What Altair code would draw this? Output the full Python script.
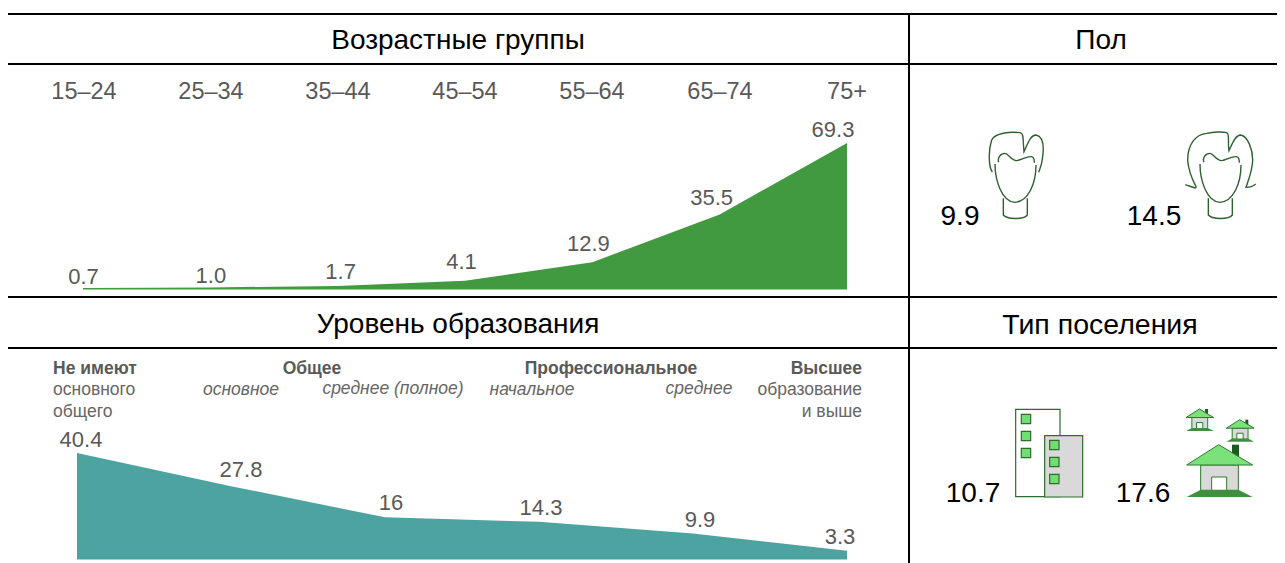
import altair as alt
import pandas as pd

# ---------- chart values ----------
age_groups = ["15–24", "25–34", "35–44", "45–54", "55–64", "65–74", "75+"]
age_values = [0.7, 1.0, 1.7, 4.1, 12.9, 35.5, 69.3]
edu_values = [40.4, 27.8, 16, 14.3, 9.9, 3.3]
edu_labels = ["40.4", "27.8", "16", "14.3", "9.9", "3.3"]
gender_values = ["9.9", "14.5"]
settlement_values = ["10.7", "17.6"]

# ---------- layout ----------
W, H = 1269, 555
OX, OY = 8, 8  # page margin
GREEN, TEAL = "#429A40", "#4CA3A0"
GREY = "#595959"
CAP = "#666666"
FONT = "Liberation Sans"
age_nudge_x = [0.5, 0.5, 3, -3.5, -4, -8, -14]
age_lift = [11.5, 11, 13.5, 18.5, 18, 16, 13]
edu_nudge_x = [4, 10, 6, 2, 7, -7]
edu_lift = [13, 16, 14.5, 13.5, 13, 14]


def layer_area(values, labels, px0, px1, py_base, py_top, color, nudge, lift):
    n = len(values)
    dom_top = max(values)
    step = (px1 - px0) / (n - 1)
    unit = (py_base - py_top) / dom_top
    df = pd.DataFrame({
        "i": range(n),
        "v": values,
        "label": labels,
        "lx": [i + d / step for i, d in enumerate(nudge)],
        "ly": [v + l / unit for v, l in zip(values, lift)],
    })
    xs = alt.Scale(domain=[0, n - 1], range=[px0 - OX, px1 - OX])
    ys = alt.Scale(domain=[0, dom_top], range=[py_base - OY, py_top - OY])
    area = alt.Chart(df).mark_area(color=color, interpolate="linear").encode(
        x=alt.X("i:Q", scale=xs, axis=None),
        y=alt.Y("v:Q", scale=ys, axis=None),
    )
    text = alt.Chart(df).mark_text(
        font=FONT, fontSize=22, color=GREY, baseline="middle", align="center"
    ).encode(
        x=alt.X("lx:Q", scale=xs, axis=None),
        y=alt.Y("ly:Q", scale=ys, axis=None),
        text="label:N",
    )
    return [area, text]


ONE = alt.Data(values=[{"a": 1}])


def txt(s, x, y, size, color=GREY, align="center", weight="normal", style="normal"):
    return alt.Chart(ONE).mark_text(
        font=FONT, fontSize=size, color=color, align=align, baseline="middle",
        fontWeight=weight, fontStyle=style,
    ).encode(x=alt.value(x - OX), y=alt.value(y - OY), text=alt.value(s))


def rule(x0, y0, x1, y1, w=2):
    return alt.Chart(ONE).mark_rule(color="#000000", strokeWidth=w).encode(
        x=alt.value(x0 - OX), x2=alt.value(x1 - OX),
        y=alt.value(y0 - OY), y2=alt.value(y1 - OY),
    )


def icon(path, ax, ay, fill=None, stroke=None, sw=1.0):
    # path is written in zoomed (3x) coordinates relative to page point (ax, ay)
    kw = {"filled": fill is not None, "opacity": 1}
    if fill is not None:
        kw["fill"] = fill
    else:
        kw["fill"] = "transparent"
    kw["stroke"] = stroke if stroke is not None else "transparent"
    kw["strokeWidth"] = sw if stroke is not None else 0
    return alt.Chart(ONE).mark_point(shape=path, size=4 / 9, **kw).encode(
        x=alt.value(ax - OX), y=alt.value(ay - OY)
    )


def rect(x0, y0, x1, y1):
    return f"M{x0} {y0}L{x1} {y0}L{x1} {y1}L{x0} {y1}Z"


def house(ox, oy, k):
    P = lambda x, y: (round(ox + (x - 800) * k, 1), round(oy + (y - 149) * k, 1))
    def poly(*pts):
        pp = [P(*p) for p in pts]
        return "M" + "L".join(f"{a} {b}" for a, b in pp) + "Z"
    return [
        (poly((936, 149), (957, 149), (957, 192), (936, 192)), "#1E5A1E", None, 0),
        (poly((842, 210), (955, 210), (955, 290), (842, 290)), "#D9D9D9", "#2F7A2F", 1),
        (poly((800, 210), (896, 149), (998, 210)), "#7BE27B", "#2F7A2F", 1),
        (poly((875, 246), (920, 246), (920, 290), (875, 290)), "#FFFFFF", "#2F7A2F", 1),
        (poly((800, 306), (842, 284), (955, 284), (998, 306)), "#3F8F3F", None, 0),
    ]


layers = []
layers += layer_area(age_values, [f"{v:.1f}" for v in age_values], 83, 847, 289.5, 143,
                     GREEN, age_nudge_x, age_lift)
layers += layer_area(edu_values, edu_labels, 77, 847, 559.5, 453,
                     TEAL, edu_nudge_x, edu_lift)

# table rules
for y in [14, 64, 297, 348]:
    layers.append(rule(8, y, 1285, y))
layers.append(rule(909, 14, 909, 563))

# headers
layers += [
    txt("Возрастные группы", 458, 41, 28, "#000000"),
    txt("Пол", 1101, 41, 28, "#000000"),
    txt("Уровень образования", 458, 325, 28, "#000000"),
    txt("Тип поселения", 1100, 325, 28.5, "#000000"),
]

# age tick labels
for g, x in zip(age_groups, [84, 211, 338, 465, 592, 720, 847]):
    layers.append(txt(g, x, 92, 23.5))

# education captions
layers += [
    txt("Не имеют", 53, 369, 17.5, align="left", weight="bold"),
    txt("основного", 53, 390, 17.5, CAP, align="left"),
    txt("общего", 53, 412, 17.5, CAP, align="left"),
    txt("Общее", 312, 369, 17.5, weight="bold"),
    txt("основное", 241, 390, 17.5, CAP, style="italic"),
    txt("среднее (полное)", 393, 389, 17.5, CAP, style="italic"),
    txt("Профессиональное", 611, 369, 17.5, weight="bold"),
    txt("начальное", 532, 390, 17.5, CAP, style="italic"),
    txt("среднее", 699, 389, 17.5, CAP, style="italic"),
    txt("Высшее", 862, 369, 17.5, align="right", weight="bold"),
    txt("образование", 862, 390, 17.5, CAP, align="right"),
    txt("и выше", 862, 412, 17.5, CAP, align="right"),
]

# icon values
layers += [
    txt(gender_values[0], 960, 217, 28, "#000000"),
    txt(gender_values[1], 1154, 217, 28, "#000000"),
    txt(settlement_values[0], 973, 494, 28, "#000000"),
    txt(settlement_values[1], 1143, 494, 28, "#000000"),
]

# faces (3x zoom coordinates)
FACE_STROKE = "#2F6030"
male = (
    "M217 186C205 170 205 120 215 90C225 68 270 65 300 68C312 70 308 85 312 125"
    "C322 105 330 75 348 75C372 80 372 110 368 140C366 165 360 175 356 187"
    "M236 157C232 145 240 130 255 130C265 130 272 150 290 152C305 150 320 138 335 140"
    "C342 142 343 150 343 158"
    "M225 162C225 210 245 275 285 277C325 275 348 220 348 165"
    "M250 265L250 315C260 328 310 330 322 315L322 265"
)
female = (
    "M796 224C815 230 830 238 828 230C815 205 805 180 803 150C803 100 830 72 860 70"
    "C880 65 910 65 920 68C930 72 922 90 927 122C935 105 945 75 962 75"
    "C985 80 998 120 998 150C998 180 985 210 978 232C985 232 1000 228 1007 222"
    "M851 157C847 145 855 130 870 130C880 130 887 150 905 152C920 150 935 138 950 140"
    "C957 142 958 150 958 158"
    "M840 162C840 210 860 275 900 277C940 275 963 220 963 165"
    "M865 265L865 315C875 328 925 330 937 315L937 265"
)
layers.append(icon(male, 920, 110, None, FACE_STROKE, 1.4))
layers.append(icon(female, 920, 110, None, FACE_STROKE, 1.4))

# buildings (3x zoom coordinates)
BSTROKE = "#2F6B2F"
WIN = "#70DE70"
layers.append(icon(rect(287, 43, 420, 305), 920, 395, "#FFFFFF", BSTROKE, 1.2))
for x0, y0 in [(304, 58), (304, 109), (304, 160)]:
    layers.append(icon(rect(x0, y0, x0 + 28, y0 + 28), 920, 395, WIN, BSTROKE, 1.2))
layers.append(icon(rect(374, 122, 488, 306), 920, 395, "#D9D9D9", BSTROKE, 1.2))
for x0, y0 in [(389, 136), (389, 187), (389, 238)]:
    layers.append(icon(rect(x0, y0, x0 + 28, y0 + 28), 920, 395, WIN, BSTROKE, 1.2))

# houses
for ox, oy, k in [(800, 149, 1.0), (798, 42, 0.42), (919, 74, 0.42)]:
    for path, fill, stroke, sw in house(ox, oy, k):
        layers.append(icon(path, 920, 395, fill, stroke, sw if sw else 1))

chart = alt.layer(*layers).resolve_scale(x="independent", y="independent").properties(
    width=W, height=H, padding=0, autosize="none",
    background="#FFFFFF",
).configure_view(stroke=None)

chart.save("out.html", embed_options={"renderer": "svg", "actions": False})
